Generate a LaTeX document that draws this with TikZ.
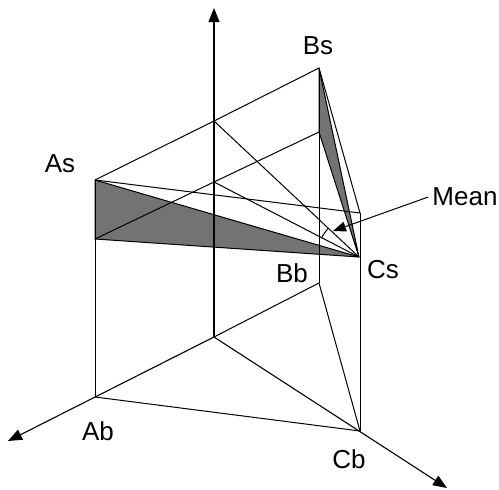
\documentclass[tikz,border=0pt]{standalone}
\usepackage{fontspec}
\setmainfont{Liberation Sans}
\usetikzlibrary{arrows.meta}
\begin{document}
\begin{tikzpicture}[x=1pt,y=-1pt,
  edge/.style={line width=1pt, line join=round},
  axis/.style={line width=1.1pt, -{Triangle[length=14pt,width=11pt]}},
  shade/.style={fill=black!55, draw=black, line width=1pt, line join=round},
  lbl/.style={font=\fontsize{26}{26}\selectfont, inner sep=0pt}]
\useasboundingbox (0,0) rectangle (499,490);
% base points
\coordinate (O) at (214,337);
\coordinate (Ab) at (95,397);
\coordinate (Bb) at (319,283);
\coordinate (Cb) at (360,431);
% top points
\coordinate (As) at (95,180);
\coordinate (Bs) at (319,68);
\coordinate (Ct) at (360,213);
\coordinate (T) at (214,121);
\coordinate (M) at (214,182);
\coordinate (P) at (95,239);
\coordinate (Q) at (319,132);
\coordinate (Cs) at (359,257);
% axis tips
\coordinate (Z) at (214,8);
\coordinate (X) at (8,441);
\coordinate (Y) at (447,488);
% shaded triangles
\filldraw[shade] (As) -- (P) -- (Cs) -- cycle;
\filldraw[shade] (Bs) -- (Q) -- (Cs) -- cycle;
% axes
\draw[axis] (O) -- (Z);
\draw[axis] (O) -- (X);
\draw[axis] (O) -- (Y);
% base
\draw[edge] (Ab) -- (Cb);
\draw[edge] (Bb) -- (Cb);
\draw[edge] (O) -- (Bb);
% verticals
\draw[edge] (Ab) -- (As);
\draw[edge] (Bb) -- (Bs);
\draw[edge] (Cb) -- (Ct);
% top triangle
\draw[edge] (As) -- (T) -- (Bs);
\draw[edge] (As) -- (Ct);
\draw[edge] (Bs) -- (Ct);
% inner lines
\draw[edge] (P) -- (M) -- (Q);
\draw[edge] (T) -- (Cs);
\draw[edge] (M) -- (Cs);
% angle arc
\draw[edge] plot[domain=207:223, samples=12] ({359+42*cos(\x)},{257+42*sin(\x)});
% labels
\node[lbl] (lBs) at (318,46) {Bs};
\node[lbl] (lAs) at (60,164) {As};
\node[lbl] (lMean) at (465,197) {Mean};
\node[lbl] (lBb) at (292,273) {Bb};
\node[lbl] (lCs) at (383,270) {Cs};
\node[lbl] (lAb) at (98,431) {Ab};
\node[lbl] (lCb) at (349,459) {Cb};
\coordinate (MeanTip) at (333,231);
\draw[line width=1pt, -{Triangle[length=13pt,width=10pt]}] ([xshift=-4pt]lMean.west) -- (MeanTip);
\end{tikzpicture}
\end{document}
